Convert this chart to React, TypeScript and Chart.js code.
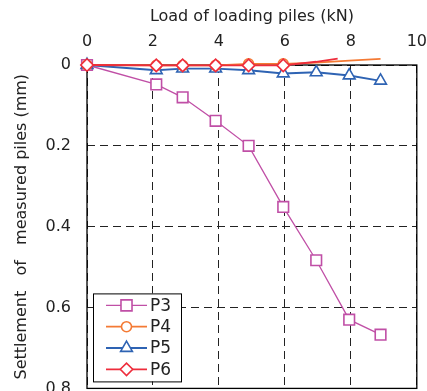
import React, { useEffect, useRef } from "react";
import { Chart, registerables } from "chart.js";

Chart.register(...registerables);

// ---- data ----
const seriesNames = ["P3", "P4", "P5", "P6"];
const p3Load = [0, 2.1, 2.9, 3.9, 4.9, 5.95, 6.95, 7.95, 8.9];
const p3Settle = [0, 0.048, 0.08, 0.138, 0.2, 0.351, 0.483, 0.63, 0.667];
const p4Load = [0, 2.1, 2.9, 3.9, 4.9, 5.95, 6.95, 7.95, 8.9];
const p4Settle = [0, 0.001, 0.001, 0.001, -0.003, -0.003, -0.006, -0.011, -0.015];
const p5Load = [0, 2.1, 2.9, 3.9, 4.9, 5.95, 6.95, 7.95, 8.9];
const p5Settle = [0, 0.013, 0.009, 0.009, 0.013, 0.021, 0.018, 0.026, 0.039];
const p6Load = [0, 2.1, 2.9, 3.9, 4.9, 5.95, 6.95, 7.6];
const p6Settle = [0, 0.001, 0.001, 0.001, 0.001, 0.001, -0.008, -0.016];
const xTickValues = [0, 2, 4, 6, 8, 10];
const xTickLabels = ["0", "2", "4", "6", "8", "10"];
const yTickValues = [0, 0.2, 0.4, 0.6, 0.8];
const yTickLabels = ["0", "0.2", "0.4", "0.6", "0.8"];
const xTitle = "Load of loading piles (kN)";
const yTitle = "Settlement   of   measured piles (mm)";

const colors = ["#C04FA6", "#F47A34", "#2E63B3", "#EE2D3C"];
const styles = ["rect", "circle", "triangle", "rectRot"];
const radii = [7.5, 5, 6.8, 6.2];
const widths = [1.3, 1.8, 1.8, 1.8];

const FONT = "'DejaVu Sans', sans-serif";

function pts(xs: number[], ys: number[]) {
  return xs.map((x, i) => ({ x, y: ys[i] }));
}

function drawMarker(ctx: CanvasRenderingContext2D, style: string, x: number, y: number, r: number) {
  ctx.beginPath();
  if (style === "rect") {
    const s = Math.SQRT1_2 * r;
    ctx.rect(x - s, y - s, 2 * s, 2 * s);
  } else if (style === "circle") {
    ctx.arc(x, y, r, 0, Math.PI * 2);
  } else if (style === "triangle") {
    for (let k = 0; k < 3; k++) {
      const a = (k * 2 * Math.PI) / 3;
      const px = x + Math.sin(a) * r;
      const py = y - Math.cos(a) * r;
      if (k === 0) ctx.moveTo(px, py);
      else ctx.lineTo(px, py);
    }
    ctx.closePath();
  } else {
    ctx.moveTo(x - r, y);
    ctx.lineTo(x, y - r);
    ctx.lineTo(x + r, y);
    ctx.lineTo(x, y + r);
    ctx.closePath();
  }
  ctx.fill();
  ctx.stroke();
}

const framePlugin = {
  id: "frame",
  beforeDatasetsDraw(chart: any) {
    const { ctx, chartArea: a } = chart;
    ctx.save();
    ctx.strokeStyle = "#000";
    ctx.lineWidth = 1.3;
    ctx.setLineDash([]);
    ctx.strokeRect(a.left, a.top, a.right - a.left, a.bottom - a.top);
    ctx.restore();
  },
};

const legendPlugin = {
  id: "customLegend",
  afterDraw(chart: any) {
    const { ctx, chartArea: a } = chart;
    const left = a.left + 6;
    const top = a.bottom - 95;
    const w = 88;
    const h = 88;
    ctx.save();
    ctx.fillStyle = "#fff";
    ctx.fillRect(left, top, w, h);
    ctx.strokeStyle = "#000";
    ctx.lineWidth = 1;
    ctx.strokeRect(left + 0.5, top + 0.5, w, h);
    seriesNames.forEach((name, i) => {
      const y = top + 12 + i * 21.3;
      ctx.strokeStyle = colors[i];
      ctx.lineWidth = widths[i];
      ctx.beginPath();
      ctx.moveTo(left + 13, y);
      ctx.lineTo(left + 54, y);
      ctx.stroke();
      ctx.fillStyle = "#fff";
      ctx.lineWidth = 1.6;
      drawMarker(ctx, styles[i], left + 33.5, y, [7.8, 5, 6.8, 6.2][i]);
      ctx.fillStyle = "#222";
      ctx.font = `17px ${FONT}`;
      ctx.textAlign = "left";
      ctx.textBaseline = "middle";
      ctx.fillText(name, left + 57, y + 1);
    });
    ctx.restore();
  },
};

export default function App() {
  const ref = useRef<HTMLCanvasElement | null>(null);
  useEffect(() => {
    if (!ref.current) return;
    const loads = [p3Load, p4Load, p5Load, p6Load];
    const settles = [p3Settle, p4Settle, p5Settle, p6Settle];
    const orders = [4, 2, 3, 1];
    const datasets = seriesNames.map((name, i) => ({
      label: name,
      data: pts(loads[i], settles[i]),
      borderColor: colors[i],
      backgroundColor: "#fff",
      borderWidth: widths[i],
      pointStyle: styles[i],
      pointRadius: settles[i].map((v) => (v < -0.004 ? 0 : radii[i])),
      pointBorderWidth: 1.6,
      pointBackgroundColor: "#fff",
      pointBorderColor: colors[i],
      tension: 0,
      clip: false as any,
      order: orders[i],
    }));
    const chart = new Chart(ref.current, {
      type: "line",
      data: { datasets },
      options: {
        animation: false,
        responsive: true,
        maintainAspectRatio: false,
        layout: { padding: { left: 0, right: 0, top: 0, bottom: 0 } },
        plugins: { legend: { display: false }, tooltip: { enabled: false } },
        scales: {
          x: {
            type: "linear",
            position: "top",
            min: 0,
            max: 10,
            afterBuildTicks: (s: any) => {
              s.ticks = xTickValues.map((v) => ({ value: v }));
            },
            afterFit: (s: any) => {
              s.height = 65;
            },
            ticks: {
              padding: 14,
              color: "#222",
              font: { family: FONT, size: 16 },
              maxRotation: 0,
              callback: (v: any) => xTickLabels[xTickValues.indexOf(Number(v))] ?? "",
            },
            grid: { color: "#222", lineWidth: 1, drawTicks: false },
            border: { display: false, dash: [8, 5] },
            title: {
              display: true,
              text: xTitle,
              color: "#222",
              font: { family: FONT, size: 16 },
              padding: { top: 7, bottom: 0 },
            },
          },
          y: {
            type: "linear",
            reverse: true,
            min: 0,
            max: 0.8,
            afterBuildTicks: (s: any) => {
              s.ticks = yTickValues.map((v) => ({ value: v }));
            },
            afterFit: (s: any) => {
              s.width = 87;
            },
            ticks: {
              padding: 16,
              color: "#222",
              font: { family: FONT, size: 16 },
              callback: (v: any) => {
                const idx = yTickValues.findIndex((t) => Math.abs(t - Number(v)) < 1e-6);
                return idx >= 0 ? yTickLabels[idx] : "";
              },
            },
            grid: { color: "#222", lineWidth: 1, drawTicks: false },
            border: { display: false, dash: [8, 5] },
            title: {
              display: true,
              text: yTitle,
              color: "#222",
              font: { family: FONT, size: 16 },
              padding: { top: 12, bottom: 0 },
            },
          },
        },
      },
      plugins: [framePlugin, legendPlugin],
    } as any);
    return () => chart.destroy();
  }, []);
  return (
    <div style={{ position: "fixed", left: 0, top: 0, width: 441, height: 414 }}>
      <canvas ref={ref} />
    </div>
  );
}
